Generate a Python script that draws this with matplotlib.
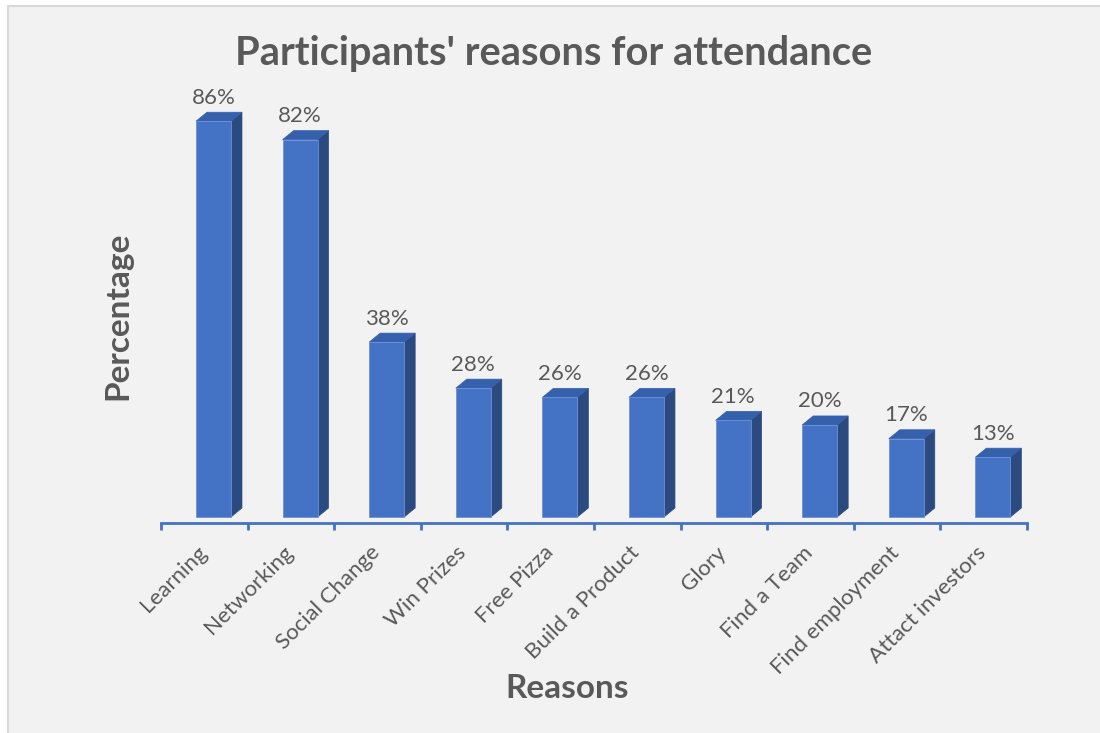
import matplotlib
matplotlib.use('Agg')
import matplotlib.pyplot as plt
from matplotlib.patches import Polygon, Rectangle
import numpy as np

plt.rcParams['font.family'] = ['Lato', 'DejaVu Sans']

# data
reasons = ['Learning', 'Networking', 'Social Change', 'Win Prizes', 'Free Pizza',
           'Build a Product', 'Glory', 'Find a Team', 'Find employment', 'Attact investors']
percent = [86, 82, 38, 28, 26, 26, 21, 20, 17, 13]

text_col = '#595959'
front_col = '#4472c4'
side_col = '#2b4a80'
top_col = '#3560ab'

fig = plt.figure(figsize=(11, 7.33), dpi=100)
fig.patch.set_facecolor('white')
# chart area background with thin border (top/left visible)
fig.patches.append(Rectangle((8/1100, -0.1), 1.2, 0.1 + (733-6)/733, transform=fig.transFigure,
                             facecolor='#f2f2f2', edgecolor='#d9d9d9', lw=1.5, zorder=-1))

ax = fig.add_axes([161/1100, 210/733, (1027-161)/1100, (638-210)/733])
ax.patch.set_alpha(0)

x0s = np.arange(len(reasons)) + 0.404   # left of front face in each category slot
w = 0.404
dx, dy = 0.127, 1.96

for x0, v in zip(x0s, percent):
    x1 = x0 + w
    ax.add_patch(Rectangle((x0, 0), w, v, facecolor=front_col, edgecolor='#6d91d6', lw=0.6, zorder=3))
    ax.add_patch(Polygon([(x1, 0), (x1+dx, dy), (x1+dx, v+dy), (x1, v)],
                         closed=True, facecolor=side_col, edgecolor=side_col, lw=0.5, zorder=2))
    ax.add_patch(Polygon([(x0, v), (x0+dx, v+dy), (x1+dx, v+dy), (x1, v)],
                         closed=True, facecolor=top_col, edgecolor=top_col, lw=0.5, zorder=2))
    ax.text(x0 + w/2, v + dy + 1.0, f'{v}%', ha='center', va='bottom',
            fontsize=16, color=text_col)

ax.set_xlim(0, len(reasons))
ax.set_ylim(-1.3, 91.7)

for s in ['top', 'right', 'left']:
    ax.spines[s].set_visible(False)
ax.spines['bottom'].set_color(front_col)
ax.spines['bottom'].set_linewidth(2)
ax.spines['bottom'].set_position(('data', -1.3))

ax.set_yticks([])
ax.set_xticks(np.arange(len(reasons)) + 0.41)
ax.set_xticklabels(reasons, rotation=45, ha='right', rotation_mode='anchor',
                   fontsize=16, color=text_col)
ax.tick_params(axis='x', which='major', length=0, pad=14)
ax.set_xticks(np.arange(len(reasons) + 1), minor=True)
ax.tick_params(axis='x', which='minor', length=5, width=2, color=front_col, direction='out')

fig.text(554/1100, 1 - 53/733, "Participants' reasons for attendance", ha='center', va='center',
         fontsize=28.7, fontweight='bold', color=text_col)
fig.text(118/1100, 1 - 316/733, 'Percentage', rotation=90, ha='center', va='center',
         fontsize=24, fontweight='bold', color=text_col)
fig.text(567/1100, 1 - 689/733, 'Reasons', ha='center', va='center',
         fontsize=24, fontweight='bold', color=text_col)

fig.savefig('out.png', dpi=100, facecolor=fig.get_facecolor())
